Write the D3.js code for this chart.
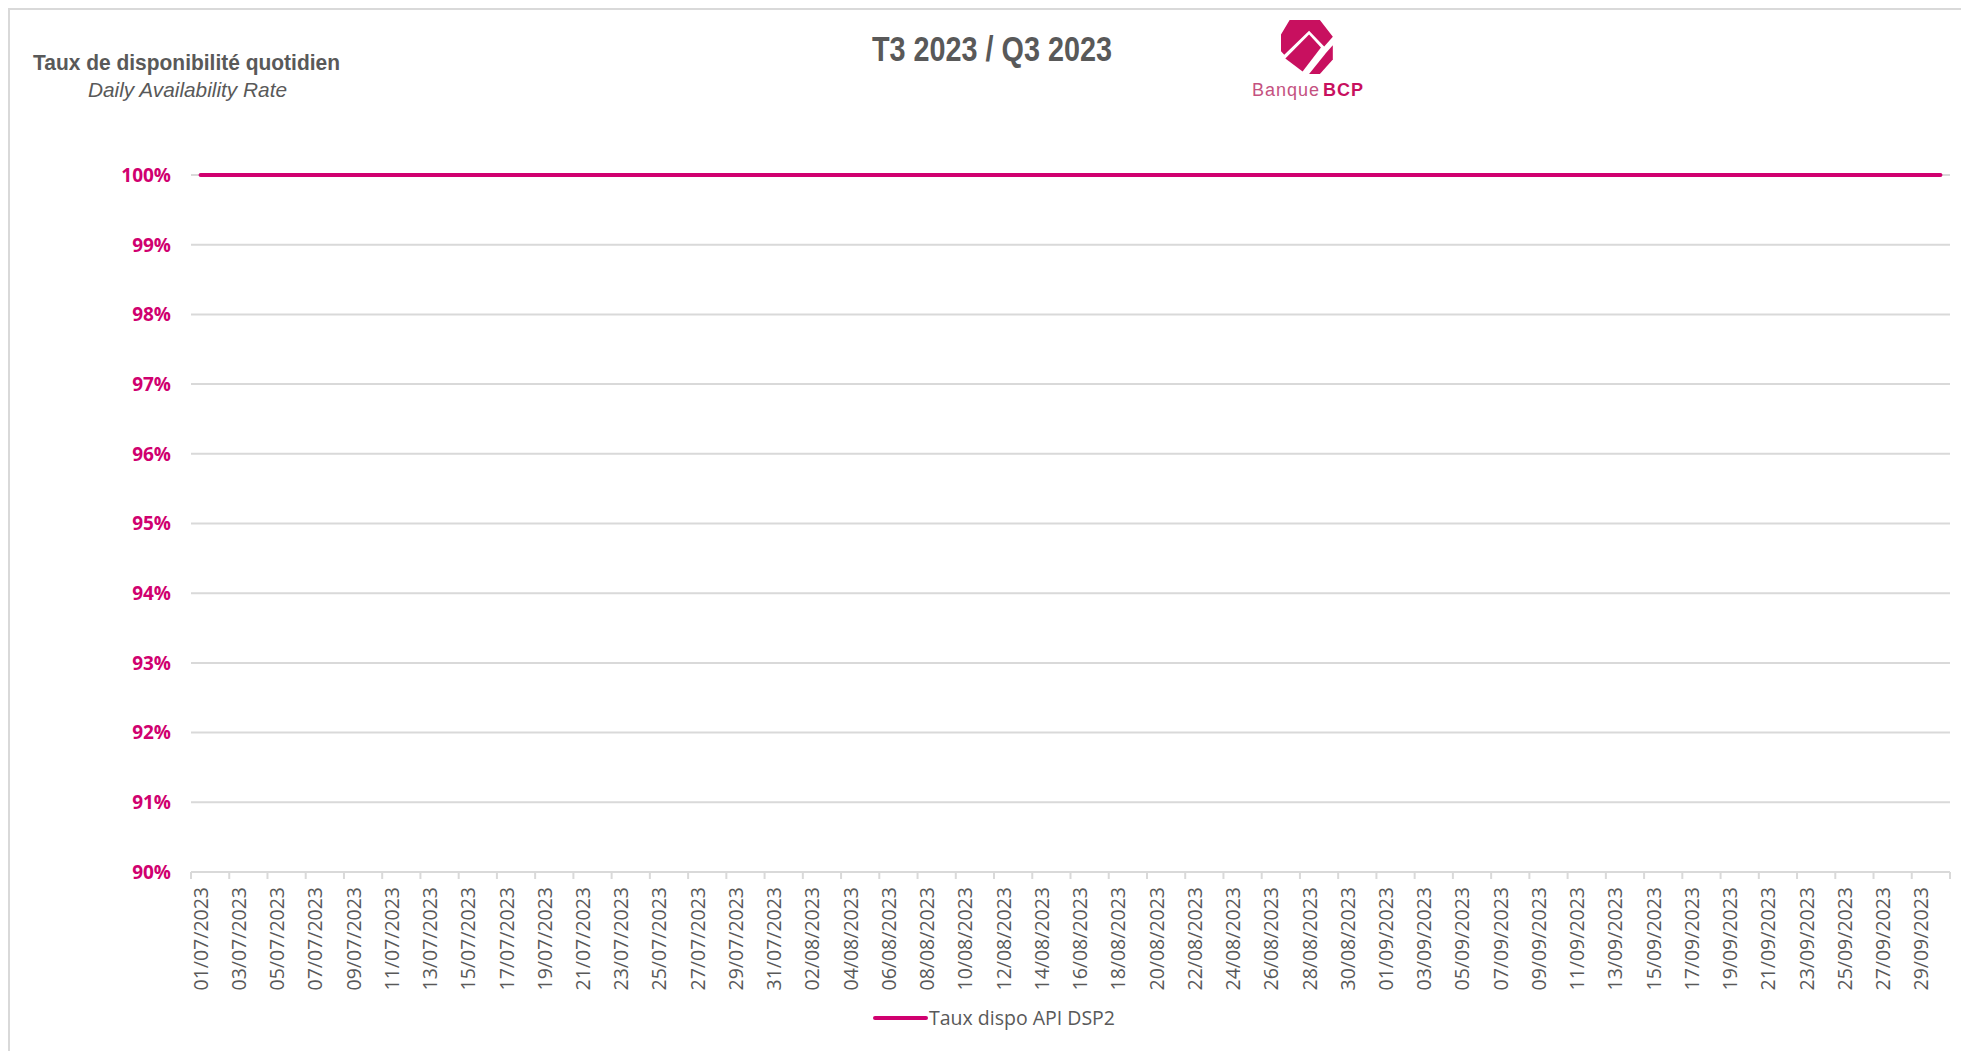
<!DOCTYPE html>
<html>
<head>
<meta charset="utf-8">
<script src="https://cdn.jsdelivr.net/npm/d3@7"></script>
<style>
	body { margin: 0; background: #fff; }
	svg { display: block; }
</style>
</head>
<body>
<div class="container"></div>
<script>
var startDay = "2023-07-01";
var endDay = "2023-09-30";

// Taux dispo API DSP2, one value per day (%)
var dailyRate = [
	100, 100, 100, 100, 100, 100, 100, 100, 100, 100,
	100, 100, 100, 100, 100, 100, 100, 100, 100, 100,
	100, 100, 100, 100, 100, 100, 100, 100, 100, 100,
	100, 100, 100, 100, 100, 100, 100, 100, 100, 100,
	100, 100, 100, 100, 100, 100, 100, 100, 100, 100,
	100, 100, 100, 100, 100, 100, 100, 100, 100, 100,
	100, 100, 100, 100, 100, 100, 100, 100, 100, 100,
	100, 100, 100, 100, 100, 100, 100, 100, 100, 100,
	100, 100, 100, 100, 100, 100, 100, 100, 100, 100,
	100, 100
];
var yTicks = [90, 91, 92, 93, 94, 95, 96, 97, 98, 99, 100];
var seriesName = "Taux dispo API DSP2";

var chart = function () {
	var width = 1961, height = 1051;
	var pink = "#d0006f", grey = "#595959", grid = "#d9d9d9";

	var parse = d3.timeParse("%Y-%m-%d");
	var fmt = d3.timeFormat("%d/%m/%Y");
	var days = d3.timeDay.range(parse(startDay), d3.timeDay.offset(parse(endDay), 1)).map(fmt);

	var init = function () {
		var paper = d3.select(".container").append("svg")
			.attr("width", width)
			.attr("height", height);

		paper.append("rect")
			.attr("x", 9).attr("y", 9)
			.attr("width", width).attr("height", height)
			.attr("fill", "#fff")
			.attr("stroke", grid)
			.attr("stroke-width", 2);

		var x = d3.scaleBand().domain(days).range([191, 1950]);
		var y = d3.scaleLinear().domain([90, 100]).range([872, 175]);

		// grid lines
		paper.selectAll(".grid").data(yTicks.slice(1)).enter().append("line")
			.attr("x1", 191).attr("x2", 1950)
			.attr("y1", function (d) { return y(d); })
			.attr("y2", function (d) { return y(d); })
			.attr("stroke", grid).attr("stroke-width", 2);

		// y labels
		paper.selectAll(".ylab").data(yTicks).enter().append("text")
			.attr("x", 171)
			.attr("y", function (d) { return y(d); })
			.attr("dy", "0.36em")
			.attr("text-anchor", "end")
			.attr("font-family", "'Open Sans', sans-serif")
			.attr("font-weight", 700)
			.attr("font-size", 19)
			.attr("fill", pink)
			.text(function (d) { return d + "%"; });

		// x axis line + ticks every 2 days
		paper.append("line")
			.attr("x1", 191).attr("x2", 1950)
			.attr("y1", 872).attr("y2", 872)
			.attr("stroke", grid).attr("stroke-width", 2);

		var bounds = d3.range(0, days.length + 1, 2);
		paper.selectAll(".tick").data(bounds).enter().append("line")
			.attr("x1", function (i) { return 191 + i * x.step(); })
			.attr("x2", function (i) { return 191 + i * x.step(); })
			.attr("y1", 872).attr("y2", 879)
			.attr("stroke", grid).attr("stroke-width", 2);

		var labelled = days.filter(function (d, i) { return i % 2 === 0; });
		paper.selectAll(".xlab").data(labelled).enter().append("text")
			.attr("transform", function (d) {
				return "translate(" + (x(d) + x.bandwidth() / 2) + ",887) rotate(-90)";
			})
			.attr("dy", "0.36em")
			.attr("text-anchor", "end")
			.attr("font-family", "'Open Sans', sans-serif")
			.attr("font-size", 19.5)
			.attr("fill", grey)
			.text(function (d) { return d; });

		// the series
		var line = d3.line()
			.x(function (d, i) { return x(days[i]) + x.bandwidth() / 2; })
			.y(function (d) { return y(d); });

		paper.append("path")
			.datum(dailyRate)
			.attr("d", line)
			.attr("fill", "none")
			.attr("stroke", pink)
			.attr("stroke-width", 4)
			.attr("stroke-linecap", "round");

		// titles
		paper.append("text")
			.attr("x", 872).attr("y", 61)
			.attr("textLength", 240).attr("lengthAdjust", "spacingAndGlyphs")
			.attr("font-family", "'Liberation Sans Narrow', 'Liberation Sans', sans-serif")
			.attr("font-weight", 700).attr("font-size", 35)
			.attr("fill", grey)
			.text("T3 2023 / Q3 2023");

		paper.append("text")
			.attr("x", 33).attr("y", 70)
			.attr("textLength", 307).attr("lengthAdjust", "spacingAndGlyphs")
			.attr("font-family", "'Liberation Sans', sans-serif")
			.attr("font-weight", 700).attr("font-size", 22)
			.attr("fill", grey)
			.text("Taux de disponibilité quotidien");

		paper.append("text")
			.attr("x", 88).attr("y", 97)
			.attr("textLength", 199).attr("lengthAdjust", "spacingAndGlyphs")
			.attr("font-family", "'Liberation Sans', sans-serif")
			.attr("font-style", "italic").attr("font-size", 21)
			.attr("fill", grey)
			.text("Daily Availability Rate");

		// logo
		var logo = paper.append("g").attr("transform", "translate(1281,20) scale(1.08,1.2)");
		var pieces = [
			[[8, 0], [36, 0], [48, 14], [40, 22], [26, 9], [3, 29], [0, 26], [0, 12]],
			[[4, 32], [26, 12], [37, 23], [20, 43]],
			[[42, 27], [48, 21], [48, 33], [36, 45], [26, 45]]
		];
		logo.selectAll("path").data(pieces).enter().append("path")
			.attr("d", function (d) { return "M" + d.join("L") + "Z"; })
			.attr("fill", "#c8105f");
		var brand = paper.append("text")
			.attr("x", 1252).attr("y", 96)
			.attr("font-family", "'Liberation Sans', sans-serif")
			.attr("font-size", 18).attr("letter-spacing", 1);
		brand.append("tspan").attr("fill", "#c4517f").text("Banque");
		brand.append("tspan").attr("fill", "#c8105f").attr("font-weight", 700).attr("dx", 3).text("BCP");

		// legend
		paper.append("line")
			.attr("x1", 875).attr("x2", 926)
			.attr("y1", 1018).attr("y2", 1018)
			.attr("stroke", pink).attr("stroke-width", 4)
			.attr("stroke-linecap", "round");
		paper.append("text")
			.attr("x", 929).attr("y", 1025)
			.attr("font-family", "'Open Sans', sans-serif")
			.attr("font-size", 19.5)
			.attr("fill", grey)
			.text(seriesName);
	};

	return Object.freeze({ init: init });
};

var c = chart();
c.init();
</script>
</body>
</html>
